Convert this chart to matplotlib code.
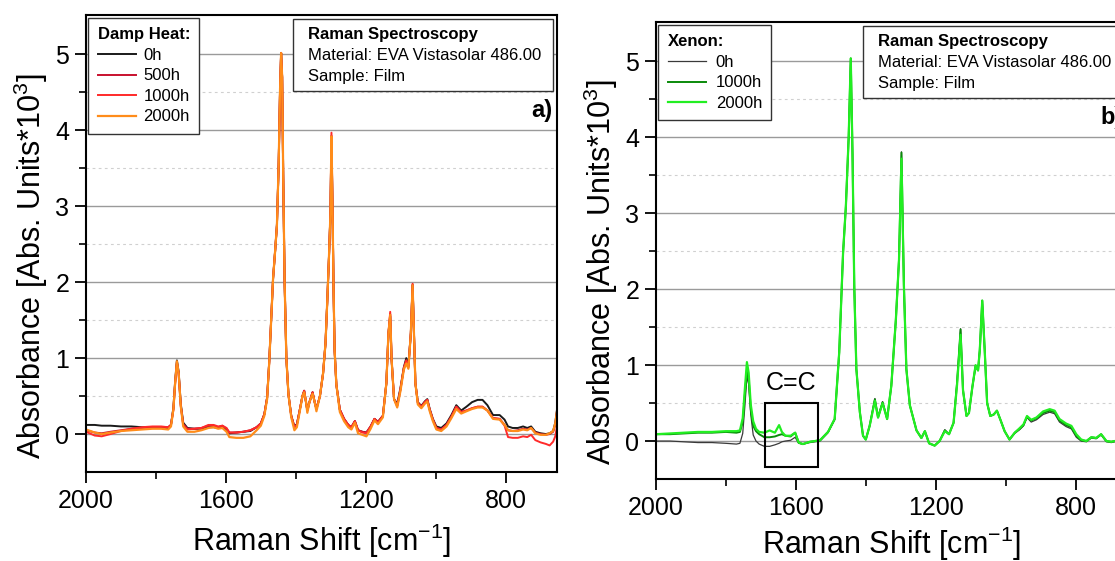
import matplotlib
matplotlib.use("Agg")
import matplotlib.pyplot as plt
from matplotlib.patches import Rectangle

plt.rcParams['font.family'] = ['Liberation Sans', 'DejaVu Sans']
plt.rcParams['mathtext.fontset'] = 'custom'
plt.rcParams['mathtext.rm'] = 'Liberation Sans'

# ---- a) damp heat ----
wn_dh = [2000, 1975, 1955, 1930, 1900, 1870, 1840, 1810, 1785, 1765,
         1757, 1750, 1745, 1740, 1735, 1729, 1722, 1710, 1690, 1670,
         1650, 1635, 1622, 1610, 1598, 1590, 1570, 1550, 1530, 1512,
         1500, 1490, 1482, 1476, 1470, 1465, 1459, 1454, 1449, 1445,
         1442, 1439, 1436, 1432, 1427, 1421, 1413, 1404, 1397, 1389,
         1381, 1376, 1371, 1367, 1361, 1352, 1346, 1341, 1331, 1322,
         1315, 1310, 1305, 1301, 1298, 1295, 1292, 1289, 1284, 1274,
         1262, 1250, 1241, 1231, 1222, 1210, 1198, 1186, 1175, 1165,
         1151, 1141, 1135, 1130, 1126, 1119, 1110, 1101, 1091, 1084,
         1078, 1071, 1066, 1062, 1058, 1051, 1041, 1031, 1024, 1017,
         1008, 998, 984, 969, 955, 941, 927, 912, 896, 880,
         866, 852, 836, 817, 803, 793, 780, 765, 750, 738,
         727, 715, 700, 685, 674, 664, 658, 653]
dh_0h = [0.12, 0.12, 0.11, 0.11, 0.10, 0.10, 0.09, 0.09, 0.08, 0.08,
         0.12, 0.35, 0.70, 0.97, 0.82, 0.40, 0.15, 0.08, 0.07, 0.07,
         0.09, 0.09, 0.08, 0.09, 0.06, 0.01, 0.02, 0.03, 0.04, 0.09,
         0.14, 0.26, 0.48, 0.95, 1.55, 2.05, 2.42, 2.75, 3.55, 4.55,
         5.02, 4.70, 3.40, 2.00, 1.00, 0.52, 0.24, 0.10, 0.13, 0.31,
         0.50, 0.57, 0.43, 0.31, 0.42, 0.55, 0.42, 0.33, 0.50, 0.80,
         1.20, 1.75, 2.35, 2.90, 3.90, 3.00, 1.90, 1.10, 0.65, 0.32,
         0.20, 0.12, 0.09, 0.17, 0.05, 0.03, 0.02, 0.10, 0.20, 0.16,
         0.24, 0.67, 1.33, 1.55, 0.98, 0.46, 0.40, 0.60, 0.88, 1.00,
         0.90, 1.33, 1.96, 1.33, 0.67, 0.42, 0.37, 0.43, 0.46, 0.33,
         0.20, 0.10, 0.08, 0.14, 0.25, 0.38, 0.31, 0.36, 0.42, 0.45,
         0.45, 0.38, 0.25, 0.25, 0.19, 0.10, 0.08, 0.08, 0.10, 0.08,
         0.10, 0.03, 0.01, 0.00, 0.01, 0.04, 0.15, 0.32]
dh_500h = [0.05, 0.02, 0.01, 0.03, 0.05, 0.07, 0.08, 0.09, 0.09, 0.09,
           0.12, 0.33, 0.68, 0.95, 0.80, 0.38, 0.13, 0.07, 0.07, 0.08,
           0.11, 0.11, 0.09, 0.11, 0.07, 0.02, 0.02, 0.03, 0.05, 0.09,
           0.14, 0.26, 0.48, 0.95, 1.55, 2.05, 2.42, 2.75, 3.55, 4.55,
           5.02, 4.70, 3.40, 2.00, 1.00, 0.52, 0.24, 0.09, 0.12, 0.31,
           0.50, 0.57, 0.43, 0.31, 0.42, 0.55, 0.42, 0.33, 0.50, 0.80,
           1.20, 1.75, 2.35, 2.90, 3.93, 3.00, 1.90, 1.10, 0.65, 0.32,
           0.20, 0.12, 0.09, 0.17, 0.05, 0.03, 0.02, 0.10, 0.20, 0.16,
           0.24, 0.67, 1.33, 1.58, 0.98, 0.46, 0.37, 0.58, 0.87, 0.97,
           0.88, 1.33, 1.97, 1.33, 0.67, 0.41, 0.36, 0.42, 0.45, 0.32,
           0.19, 0.08, 0.06, 0.12, 0.23, 0.36, 0.29, 0.31, 0.34, 0.36,
           0.36, 0.31, 0.21, 0.20, 0.12, 0.05, 0.04, 0.05, 0.07, 0.06,
           0.08, 0.02, 0.00, -0.01, 0.00, 0.03, 0.12, 0.30]
dh_1000h = [0.03, -0.02, -0.03, 0.00, 0.04, 0.07, 0.09, 0.10, 0.10, 0.09,
            0.12, 0.32, 0.67, 0.94, 0.79, 0.37, 0.12, 0.06, 0.07, 0.08,
            0.12, 0.12, 0.10, 0.11, 0.08, 0.02, 0.02, 0.03, 0.05, 0.09,
            0.14, 0.26, 0.48, 0.95, 1.55, 2.05, 2.42, 2.75, 3.55, 4.55,
            5.02, 4.70, 3.40, 2.00, 1.00, 0.52, 0.24, 0.09, 0.12, 0.31,
            0.50, 0.57, 0.43, 0.31, 0.42, 0.55, 0.42, 0.33, 0.50, 0.80,
            1.20, 1.75, 2.35, 2.90, 3.97, 3.00, 1.90, 1.10, 0.65, 0.32,
            0.20, 0.12, 0.09, 0.17, 0.05, 0.02, 0.01, 0.10, 0.20, 0.15,
            0.24, 0.67, 1.33, 1.61, 0.98, 0.46, 0.37, 0.58, 0.87, 0.97,
            0.88, 1.33, 1.98, 1.33, 0.67, 0.41, 0.36, 0.42, 0.45, 0.32,
            0.19, 0.08, 0.06, 0.12, 0.23, 0.36, 0.29, 0.31, 0.34, 0.36,
            0.36, 0.31, 0.21, 0.20, 0.11, -0.04, -0.05, -0.05, -0.03, -0.04,
            -0.01, -0.08, -0.11, -0.13, -0.15, -0.10, -0.03, 0.10]
dh_2000h = [0.06, 0.02, 0.00, 0.02, 0.04, 0.05, 0.06, 0.07, 0.07, 0.06,
            0.10, 0.33, 0.68, 0.96, 0.80, 0.37, 0.10, 0.03, 0.03, 0.05,
            0.08, 0.09, 0.07, 0.08, 0.03, -0.04, -0.05, -0.05, -0.03, 0.05,
            0.11, 0.24, 0.46, 0.94, 1.55, 2.05, 2.42, 2.75, 3.55, 4.55,
            5.02, 4.70, 3.40, 2.00, 1.00, 0.52, 0.22, 0.05, 0.09, 0.29,
            0.50, 0.55, 0.43, 0.28, 0.42, 0.53, 0.42, 0.30, 0.50, 0.80,
            1.20, 1.75, 2.35, 2.90, 3.92, 3.00, 1.90, 1.10, 0.65, 0.29,
            0.17, 0.09, 0.06, 0.15, 0.01, -0.01, -0.03, 0.07, 0.18, 0.13,
            0.22, 0.67, 1.33, 1.57, 0.98, 0.46, 0.35, 0.56, 0.85, 0.93,
            0.86, 1.33, 1.96, 1.33, 0.67, 0.39, 0.34, 0.40, 0.43, 0.30,
            0.17, 0.06, 0.04, 0.10, 0.21, 0.33, 0.27, 0.30, 0.33, 0.35,
            0.35, 0.31, 0.20, 0.19, 0.12, 0.05, 0.04, 0.04, 0.06, 0.05,
            0.08, 0.01, -0.01, -0.01, 0.01, 0.04, 0.14, 0.30]

# ---- b) xenon ----
wn_xe = [2000, 1960, 1920, 1880, 1840, 1800, 1770, 1760, 1752, 1746,
         1740, 1735, 1729, 1722, 1714, 1705, 1690, 1675, 1660, 1648,
         1640, 1630, 1615, 1602, 1592, 1580, 1560, 1531, 1508, 1489,
         1476, 1465, 1457, 1449, 1443, 1438, 1433, 1427, 1417, 1408,
         1400, 1389, 1374, 1365, 1352, 1339, 1327, 1314, 1305, 1298,
         1291, 1284, 1274, 1255, 1241, 1231, 1219, 1203, 1189, 1174,
         1162, 1149, 1139, 1129, 1122, 1112, 1105, 1095, 1086, 1079,
         1074, 1067, 1060, 1053, 1044, 1034, 1025, 1015, 1003, 989,
         974, 960, 949, 939, 927, 912, 893, 874, 860, 846,
         827, 812, 798, 784, 769, 755, 741, 727, 712, 698,
         688, 670, 655]
xe_0h = [0.00, 0.00, -0.01, -0.02, -0.02, -0.03, -0.04, -0.03, 0.10, 0.45,
         0.85, 0.75, 0.35, 0.08, 0.00, -0.04, -0.07, -0.07, -0.05, -0.03,
         -0.01, 0.00, 0.01, 0.05, -0.03, -0.04, -0.02, 0.00, 0.11, 0.28,
         1.15, 2.48, 3.09, 4.00, 5.04, 3.78, 2.04, 0.95, 0.38, 0.07,
         0.02, 0.20, 0.56, 0.31, 0.52, 0.29, 0.73, 1.60, 2.39, 3.81,
         2.04, 0.95, 0.47, 0.14, 0.04, 0.13, -0.03, -0.06, 0.00, 0.15,
         0.09, 0.24, 0.78, 1.48, 0.67, 0.33, 0.37, 0.72, 0.98, 0.93,
         1.20, 1.85, 1.20, 0.50, 0.33, 0.35, 0.40, 0.28, 0.13, 0.02,
         0.10, 0.15, 0.20, 0.31, 0.25, 0.28, 0.35, 0.38, 0.36, 0.25,
         0.19, 0.16, 0.05, 0.00, -0.01, 0.04, 0.03, 0.08, -0.01, -0.02,
         -0.01, 0.00, 0.02]
xe_1000h = [0.09, 0.09, 0.10, 0.11, 0.11, 0.12, 0.11, 0.12, 0.25, 0.60,
            0.93, 0.82, 0.42, 0.20, 0.13, 0.09, 0.05, 0.05, 0.06, 0.08,
            0.09, 0.07, 0.06, 0.11, -0.02, -0.04, -0.01, 0.01, 0.12, 0.29,
            1.17, 2.48, 3.09, 4.00, 5.04, 3.78, 2.04, 0.95, 0.38, 0.07,
            0.02, 0.20, 0.55, 0.31, 0.51, 0.29, 0.73, 1.60, 2.39, 3.80,
            2.04, 0.95, 0.47, 0.14, 0.04, 0.13, -0.03, -0.06, 0.00, 0.14,
            0.09, 0.24, 0.77, 1.47, 0.67, 0.33, 0.37, 0.72, 0.99, 0.93,
            1.20, 1.85, 1.20, 0.50, 0.33, 0.35, 0.40, 0.28, 0.13, 0.02,
            0.11, 0.16, 0.21, 0.32, 0.27, 0.30, 0.37, 0.40, 0.38, 0.27,
            0.21, 0.18, 0.07, 0.01, 0.00, 0.05, 0.04, 0.09, 0.00, -0.01,
            0.00, 0.01, 0.03]
xe_2000h = [0.09, 0.10, 0.11, 0.12, 0.12, 0.13, 0.13, 0.14, 0.30, 0.68,
            1.04, 0.90, 0.48, 0.26, 0.16, 0.12, 0.11, 0.14, 0.11, 0.21,
            0.12, 0.07, 0.07, 0.11, -0.02, -0.04, -0.01, 0.01, 0.12, 0.29,
            1.17, 2.48, 3.09, 4.00, 5.04, 3.78, 2.04, 0.95, 0.38, 0.07,
            0.02, 0.20, 0.53, 0.31, 0.50, 0.29, 0.73, 1.60, 2.39, 3.72,
            2.04, 0.95, 0.47, 0.14, 0.04, 0.13, -0.03, -0.06, 0.00, 0.13,
            0.09, 0.24, 0.74, 1.40, 0.67, 0.33, 0.37, 0.72, 1.00, 0.93,
            1.20, 1.85, 1.20, 0.50, 0.33, 0.35, 0.40, 0.28, 0.13, 0.02,
            0.11, 0.17, 0.22, 0.33, 0.28, 0.31, 0.39, 0.42, 0.40, 0.29,
            0.23, 0.20, 0.09, 0.02, 0.00, 0.05, 0.04, 0.09, 0.00, -0.01,
            0.00, 0.01, 0.03]

info = ["Raman Spectroscopy", "Material: EVA Vistasolar 486.00", "Sample: Film"]


def style(ax, ylab_y, xlab_y):
    ax.set_xlim(2000, 653)
    ax.set_ylim(-0.5, 5.52)
    ax.set_xticks([2000, 1600, 1200, 800])
    ax.set_xticks([1800, 1400, 1000], minor=True)
    ax.set_yticks([0, 1, 2, 3, 4, 5])
    ax.set_yticks([0.5, 1.5, 2.5, 3.5, 4.5], minor=True)
    ax.grid(axis='y', which='major', color='#9a9a9a', lw=1.0)
    ax.grid(axis='y', which='minor', color='#d0d0d0', lw=0.8, ls=(0, (2.5, 3)))
    ax.set_axisbelow(True)
    ax.tick_params(which='major', direction='out', length=8, width=1.3,
                   labelsize=18, pad=4)
    ax.tick_params(which='minor', direction='out', length=5, width=1.2)
    for s in ax.spines.values():
        s.set_linewidth(1.5)
    ax.set_xlabel('Raman Shift [cm$\\mathregular{^{-1}}$]', fontsize=22)
    ax.xaxis.set_label_coords(0.5, xlab_y)
    ax.set_ylabel('Absorbance [Abs. Units*10$\\mathregular{^{3}}$]', fontsize=22)
    ax.yaxis.set_label_coords(-0.076, ylab_y)


def infobox(ax, tag):
    ax.add_patch(Rectangle((0.440, 0.833), 0.551, 0.158, transform=ax.transAxes,
                           fc='white', ec='#333333', lw=1.0, zorder=5,
                           clip_on=False))
    ax.text(0.471, 0.957, info[0], transform=ax.transAxes, fontsize=12,
            weight='bold', va='center', zorder=6)
    ax.text(0.471, 0.911, info[1], transform=ax.transAxes, fontsize=12,
            va='center', zorder=6)
    ax.text(0.471, 0.865, info[2], transform=ax.transAxes, fontsize=12,
            va='center', zorder=6)
    ax.text(0.991, 0.792, tag, transform=ax.transAxes, fontsize=17,
            weight='bold', ha='right', va='center', zorder=6)


def legend(ax, title, pad):
    leg = ax.legend(title=title, loc='upper left', bbox_to_anchor=(0.005, 0.993),
                    fontsize=12, title_fontproperties={'weight': 'bold', 'size': 12},
                    alignment='left', fancybox=False, edgecolor='#333333',
                    framealpha=1, handlelength=2.3, handletextpad=pad,
                    labelspacing=0.33, borderaxespad=0, borderpad=0.55)
    leg.get_frame().set_linewidth(1.0)


fig = plt.figure(figsize=(11.15, 5.61), dpi=100)
ax1 = fig.add_axes([86 / 1115, 89 / 561, 471 / 1115, 457 / 561])
ax2 = fig.add_axes([656 / 1115, 82 / 561, 471 / 1115, 457 / 561])

ax1.plot(wn_dh, dh_0h, color='#1a1a1a', lw=1.4, label='0h')
ax1.plot(wn_dh, dh_500h, color='#c8102e', lw=1.4, label='500h')
ax1.plot(wn_dh, dh_1000h, color='#ff2a2a', lw=1.4, label='1000h')
ax1.plot(wn_dh, dh_2000h, color='#ff8c1a', lw=1.6, label='2000h')
style(ax1, 0.45, -0.108)
legend(ax1, 'Damp Heat:', 0.45)
infobox(ax1, 'a)')

ax2.plot(wn_xe, xe_0h, color='#3a3a3a', lw=0.9, label='0h')
ax2.plot(wn_xe, xe_1000h, color='#0a8a0a', lw=1.4, label='1000h')
ax2.plot(wn_xe, xe_2000h, color='#22ee22', lw=1.6, label='2000h')
style(ax2, 0.453, -0.100)
legend(ax2, 'Xenon:', 0.6)
infobox(ax2, 'b)')

# C=C marker box
ax2.add_patch(Rectangle((1689, -0.34), -152, 0.84, fill=False, ec='black', lw=1.5,
                        zorder=4))
ax2.text(1613, 0.77, 'C=C', ha='center', va='center', fontsize=18)

fig.savefig('out.png', dpi=100)
